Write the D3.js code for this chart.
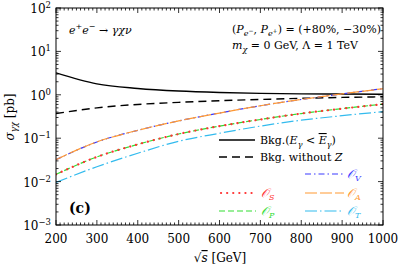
<!DOCTYPE html>
<html><head><meta charset="utf-8">
<script src="https://cdn.jsdelivr.net/npm/d3@7"></script>
<style>body{margin:0;background:#fff}svg{display:block}</style>
</head><body><svg id="c" width="399" height="266" font-family="'DejaVu Serif', serif"></svg>
<script>
const sqrtS = [200, 300, 400, 500, 600, 700, 800, 900, 1000];
const bkgCut = [3.2, 1.78, 1.40, 1.22, 1.13, 1.08, 1.05, 1.04, 1.03];
const bkgNoZ = [0.37, 0.50, 0.60, 0.67, 0.73, 0.78, 0.83, 0.87, 0.90];
const opV = [0.032, 0.082, 0.152, 0.25, 0.38, 0.56, 0.78, 1.05, 1.38];
const opA = [0.032, 0.082, 0.152, 0.25, 0.38, 0.56, 0.78, 1.05, 1.38];
const opS = [0.0147, 0.037, 0.072, 0.125, 0.19, 0.27, 0.37, 0.48, 0.61];
const opP = [0.0147, 0.037, 0.072, 0.125, 0.19, 0.27, 0.37, 0.48, 0.61];
const opT = [0.0096, 0.022, 0.045, 0.085, 0.13, 0.19, 0.26, 0.33, 0.41];
const xTicks = [200, 300, 400, 500, 600, 700, 800, 900, 1000];
const yExps = [-3, -2, -1, 0, 1, 2];

const svg = d3.select("#c");
const L = 56, R = 383, T = 8, B = 225;
const x = d3.scaleLinear().domain([200, 1000]).range([L, R]);
const y = d3.scaleLog().domain([1e-3, 1e2]).range([B, T]);

svg.append("clipPath").attr("id","cp").append("rect").attr("x",L).attr("y",T).attr("width",R-L).attr("height",B-T);
const plot = svg.append("g").attr("clip-path","url(#cp)");
const line = d3.line().x(d=>x(d[0])).y(d=>y(d[1])).curve(d3.curveMonotoneX);
function draw(vals, color, dash, w, cap){
  plot.append("path").datum(sqrtS.map((s,i)=>[s,vals[i]])).attr("d",line)
    .attr("fill","none").attr("stroke",color).attr("stroke-width",w)
    .attr("stroke-dasharray",dash).attr("stroke-linecap",cap||"butt");
}
const C = {V:"#3a3aff", S:"#ff3333", A:"#ff9933", P:"#33dd33", T:"#33bbee"};
const ST = {
  bkg:["#000","none",1.4], noz:["#000","8,5",1.4],
  V:[C.V,"6,3,1.5,3",1.2], A:[C.A,"12,3",1.2],
  P:[C.P,"6,3",1.2], S:[C.S,"0.1,6",2.2,"round"], T:[C.T,"12,3,1.5,3",1.2]
};
draw(bkgCut, ...ST.bkg);
draw(bkgNoZ, ...ST.noz);
draw(opV, ...ST.V);
draw(opA, ...ST.A);
draw(opP, ...ST.P);
draw(opS, ...ST.S);
draw(opT, ...ST.T);

svg.append("rect").attr("x",L).attr("y",T).attr("width",R-L).attr("height",B-T).attr("fill","none").attr("stroke","#000").attr("stroke-width",1);

const ax = svg.append("g").attr("stroke","#000").attr("stroke-width",0.8);
for(let v=200; v<=1000; v+=10){
  const major = v%100===0; const len = major?5:2.5;
  ax.append("line").attr("x1",x(v)).attr("x2",x(v)).attr("y1",B).attr("y2",B-len);
  ax.append("line").attr("x1",x(v)).attr("x2",x(v)).attr("y1",T).attr("y2",T+len);
}
for(let e=-3;e<=2;e++){
  ax.append("line").attr("x1",L).attr("x2",L+5).attr("y1",y(10**e)).attr("y2",y(10**e));
  ax.append("line").attr("x1",R).attr("x2",R-5).attr("y1",y(10**e)).attr("y2",y(10**e));
  if(e<2) for(let m=2;m<=9;m++){
    const yy=y(m*10**e);
    ax.append("line").attr("x1",L).attr("x2",L+2.5).attr("y1",yy).attr("y2",yy);
    ax.append("line").attr("x1",R).attr("x2",R-2.5).attr("y1",yy).attr("y2",yy);
  }
}
xTicks.forEach(v=>{
  svg.append("text").attr("x",x(v)).attr("y",B+18).attr("text-anchor","middle").attr("font-size",12).text(v);
});
yExps.forEach(e=>{
  const t = svg.append("text").attr("x",L-5).attr("y",y(10**e)+5).attr("text-anchor","end").attr("font-size",12);
  t.append("tspan").text("10");
  t.append("tspan").attr("dy",-5).attr("font-size",8.5).text(e<0?"\u2212"+(-e):e);
});
const xl = svg.append("text").attr("x",220).attr("y",262).attr("text-anchor","middle").attr("font-size",12);
xl.append("tspan").text("\u221A");
xl.append("tspan").attr("font-style","italic").attr("text-decoration","overline").text("s");
xl.append("tspan").text(" [GeV]");
const yl = svg.append("text").attr("transform","translate(14,117) rotate(-90)").attr("text-anchor","middle").attr("font-size",12);
yl.append("tspan").attr("font-style","italic").text("\u03C3");
yl.append("tspan").attr("font-style","italic").attr("font-size",8.5).attr("dy",3).text("\u03B3\u03C7");
yl.append("tspan").attr("dy",-3).text(" [pb]");

const a1 = svg.append("text").attr("x",69).attr("y",34).attr("font-size",11).attr("font-style","italic");
a1.append("tspan").text("e");
a1.append("tspan").attr("dy",-5).attr("font-size",8).text("+");
a1.append("tspan").attr("dy",5).text("e");
a1.append("tspan").attr("dy",-5).attr("font-size",8).text("\u2212");
a1.append("tspan").attr("dy",5).attr("font-style","normal").text(" \u2192 ");
a1.append("tspan").text("\u03B3\u03C7\u03BD");

const a2 = svg.append("text").attr("x",232).attr("y",33).attr("font-size",11);
a2.append("tspan").text("(");
a2.append("tspan").attr("font-style","italic").text("P");
a2.append("tspan").attr("font-style","italic").attr("font-size",8).attr("dy",3).text("e");
a2.append("tspan").attr("font-size",6).attr("dy",-3).text("\u2212");
a2.append("tspan").text(", ");
a2.append("tspan").attr("font-style","italic").text("P");
a2.append("tspan").attr("font-style","italic").attr("font-size",8).attr("dy",3).text("e");
a2.append("tspan").attr("font-size",6).attr("dy",-3).text("+");
a2.append("tspan").text(") = (+80%, \u221230%)");

const a3 = svg.append("text").attr("x",232).attr("y",49).attr("font-size",11);
a3.append("tspan").attr("font-style","italic").text("m");
a3.append("tspan").attr("font-style","italic").attr("font-size",8).attr("dy",3).text("\u03C7");
a3.append("tspan").attr("dy",-3).text(" = 0 GeV, \u039B = 1 TeV");

svg.append("text").attr("x",69).attr("y",213).attr("font-size",14).attr("font-weight","bold").text("(c)");

function legLine(x1,x2,yy,st){
  svg.append("line").attr("x1",x1).attr("x2",x2).attr("y1",yy).attr("y2",yy)
   .attr("stroke",st[0]).attr("stroke-dasharray",st[1]).attr("stroke-width",st[2]).attr("stroke-linecap",st[3]||"butt");
}
function opLabel(tx,yy,sub,color){
  const t = svg.append("text").attr("x",tx).attr("y",yy+4).attr("font-size",12).attr("font-style","italic").attr("fill",color);
  t.append("tspan").text("\u{1D4AA}");
  t.append("tspan").attr("font-size",8).attr("dy",3).text(sub);
}
legLine(219,255,140,ST.bkg);
const l1 = svg.append("text").attr("x",260).attr("y",144).attr("font-size",11);
l1.append("tspan").text("Bkg.(");
l1.append("tspan").attr("font-style","italic").text("E");
l1.append("tspan").attr("font-style","italic").attr("font-size",8).attr("dy",3).text("\u03B3");
l1.append("tspan").attr("dy",-3).text(" < ");
l1.append("tspan").attr("font-style","italic").attr("text-decoration","overline").text("E");
l1.append("tspan").attr("font-style","italic").attr("font-size",8).attr("dy",3).text("\u03B3");
l1.append("tspan").attr("dy",-3).text(")");
legLine(219,255,157,ST.noz);
const l2 = svg.append("text").attr("x",260).attr("y",161).attr("font-size",11);
l2.append("tspan").text("Bkg. without ");
l2.append("tspan").attr("font-style","italic").text("Z");

legLine(305,344,174,ST.V); opLabel(347,174,"V",C.V);
legLine(221,256,193,ST.S); opLabel(261,193,"S",C.S);
legLine(305,344,193,ST.A); opLabel(347,193,"A",C.A);
legLine(219,256,211,ST.P); opLabel(261,211,"P",C.P);
legLine(305,344,211,ST.T); opLabel(347,211,"T",C.T);
</script></body></html>
